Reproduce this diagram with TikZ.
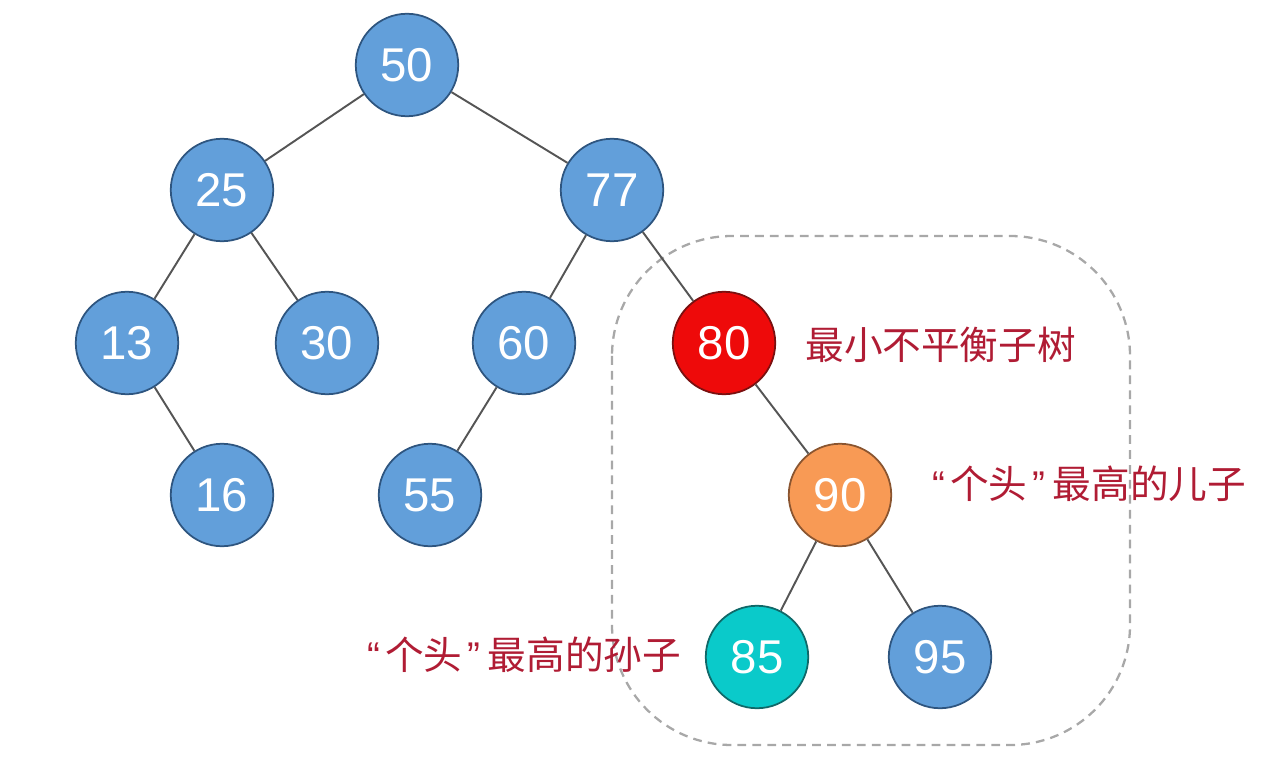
\documentclass[tikz,border=0pt]{standalone}
\usepackage{fontspec}
\setmainfont{Liberation Sans}
\newfontfamily\cjk{Noto Sans CJK SC}
\newfontfamily\quotefont{Liberation Sans}
\newcommand{\myopenq}{{\quotefont “}\kern0.1cm}
\newcommand{\mycloseq}{\kern0.1cm{\quotefont ”}\kern0.15cm}
\definecolor{nodeblue}{HTML}{629FDA}
\definecolor{nodeblueb}{HTML}{2E557F}
\definecolor{nodered}{HTML}{EE0A0A}
\definecolor{noderedb}{HTML}{7A1010}
\definecolor{nodeorange}{HTML}{F89A55}
\definecolor{nodeorangeb}{HTML}{8A5530}
\definecolor{nodeteal}{HTML}{0ACACA}
\definecolor{nodetealb}{HTML}{106868}
\definecolor{labelred}{HTML}{B01C34}
\definecolor{edgegray}{HTML}{555555}
\definecolor{boxgray}{HTML}{A8A8A8}
\tikzset{
  tn/.style={circle, minimum size=2.05cm, inner sep=0pt, line width=1pt,
    draw=nodeblueb, fill=nodeblue, text=white, font=\fontsize{27}{27}\selectfont},
  tred/.style={tn, fill=nodered, draw=noderedb},
  torange/.style={tn, fill=nodeorange, draw=nodeorangeb},
  tteal/.style={tn, fill=nodeteal, draw=nodetealb},
  edge/.style={draw=edgegray, line width=1.1pt},
  lbl/.style={text=labelred, font=\cjk\fontsize{22}{22}\selectfont, inner sep=0pt, anchor=west},
  regionbox/.style={draw=boxgray, dashed, line width=1.3pt, dash pattern=on 5pt off 3.5pt, rounded corners=2.4cm}
}
\begin{document}
\begin{tikzpicture}[x=0.02cm,y=-0.02cm]
\useasboundingbox (0,0) rectangle (1264,760);
\draw[regionbox] (612,236) rectangle (1130,745);
\node[tn] (n50) at (407,65) {50};
\node[tn] (n25) at (222,190) {25};
\node[tn] (n77) at (612,190) {77};
\node[tn] (n13) at (127,343) {13};
\node[tn] (n30) at (327,343) {30};
\node[tn] (n60) at (524,343) {60};
\node[tred] (n80) at (724,343) {80};
\node[tn] (n16) at (222,495) {16};
\node[tn] (n55) at (430,495) {55};
\node[torange] (n90) at (840,495) {90};
\node[tteal] (n85) at (757,657) {85};
\node[tn] (n95) at (940,657) {95};
\foreach \a/\b in {n50/n25,n50/n77,n25/n13,n25/n30,n77/n60,n77/n80,n13/n16,n60/n55,n80/n90,n90/n85,n90/n95}
  \draw[edge] (\a) -- (\b);
\node[lbl] (l1) at (805,345) {最小不平衡子树};
\node[lbl] (l2) at (932,484) {\myopenq 个头\mycloseq 最高的儿子};
\node[lbl] (l3) at (367,655) {\myopenq 个头\mycloseq 最高的孙子};
\end{tikzpicture}
\end{document}
